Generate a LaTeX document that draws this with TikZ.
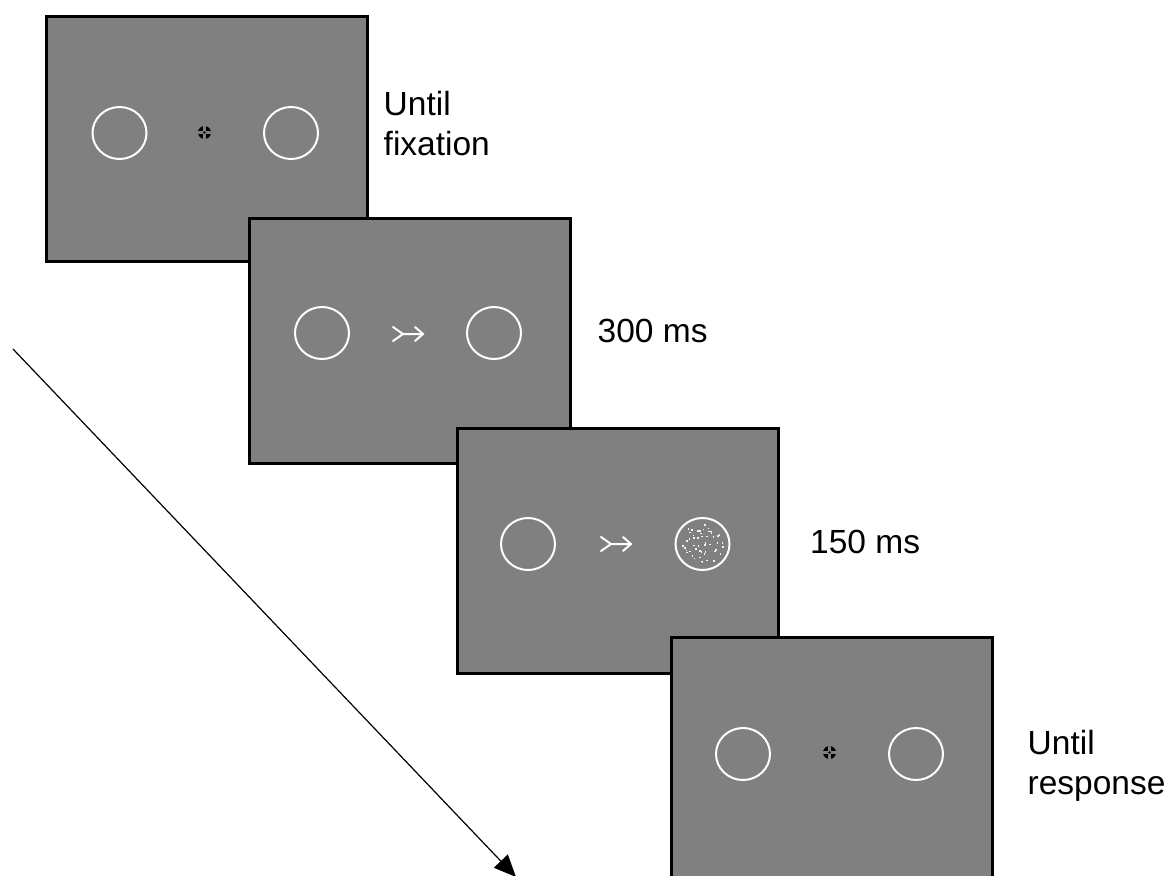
\documentclass[tikz,border=0pt]{standalone}
\usepackage{fontspec}
\setmainfont{Liberation Sans}
\usetikzlibrary{shapes.geometric,arrows.meta}
\definecolor{screen}{gray}{0.5}
\tikzset{
  screenbox/.style={rectangle, draw=black, line width=3pt, fill=screen,
    minimum width=321pt, minimum height=245pt, inner sep=0pt, anchor=north west},
  placeholder/.style={ellipse, draw=white, line width=2pt,
    minimum width=54pt, minimum height=52pt, inner sep=0pt},
  fixation/.style={circle, fill=black, minimum size=13pt, inner sep=0pt,
    path picture={
      \draw[screen, line width=2.6pt]
        (path picture bounding box.west) -- (path picture bounding box.east)
        (path picture bounding box.north) -- (path picture bounding box.south);
      \fill[black] (path picture bounding box.center) circle (1.3pt);
    }},
  cue/.style={draw=white, line width=2pt, line cap=round},
  timing/.style={font=\fontsize{33.5}{40}\selectfont, align=left, inner sep=0pt, anchor=base west},
  dot/.style={fill=white!90!screen},
}
\begin{document}
\begin{tikzpicture}[x=1pt, y=-1pt]
  \useasboundingbox (0,0) rectangle (1171,876);
  \clip (0,0) rectangle (1171,876);

  % time axis
  \coordinate (tstart) at (13,349);
  \coordinate (tend) at (516,877);
  \draw[line width=1.2pt, -{Triangle[length=22pt,width=19pt]}] (tstart) -- (tend);

  % screen 1: fixation display
  \node[screenbox] (s1) at (45,15) {};
  \begin{scope}[shift={(45,15)}]
    \node[placeholder] (s1l) at (74.5,118) {};
    \node[placeholder] (s1r) at (246,118) {};
    \node[fixation] (s1f) at (159.5,117.5) {};
  \end{scope}
  \node[timing] (t1) at (383.5,155) {Until\\fixation};

  % screen 2: cue
  \node[screenbox] (s2) at (248,217) {};
  \begin{scope}[shift={(248,217)}]
    \node[placeholder] (s2l) at (74,116) {};
    \node[placeholder] (s2r) at (246,116) {};
    \draw[cue] (145,110) -- (155,117) -- (145,124)
               (155,117) -- (175,117)
               (167,110) -- (175,117) -- (167,124);
  \end{scope}
  \node[timing] (t2) at (597.5,342) {300 ms};

  % screen 3: cue and target (dot cloud on a jittered grid)
  \node[screenbox] (s3) at (456,427) {};
  \begin{scope}[shift={(456,427)}]
    \node[placeholder] (s3l) at (72,117) {};
    \node[placeholder] (s3r) at (246.5,117) {};
    \pgfmathsetseed{5}
    \foreach \gx in {-20,-15,...,20} {
      \foreach \gy in {-20,-15,...,20} {
        \pgfmathsetmacro\px{\gx+3*rand}
        \pgfmathsetmacro\py{\gy+3*rand}
        \pgfmathsetmacro\inside{(\px*\px+\py*\py<440) ? 1 : 0}
        \ifnum\inside=1
          \fill[dot] (246.5+\px-0.8,117+\py-0.8) rectangle ++(1.6,1.6);
        \fi
      }
    }
    \draw[cue] (145,110) -- (155,117) -- (145,124)
               (155,117) -- (175,117)
               (167,110) -- (175,117) -- (167,124);
  \end{scope}
  \node[timing] (t3) at (810,553) {150 ms};

  % screen 4: response display
  \node[screenbox] (s4) at (670,636) {};
  \begin{scope}[shift={(670,636)}]
    \node[placeholder] (s4l) at (73,118) {};
    \node[placeholder] (s4r) at (246,118) {};
    \node[fixation] (s4f) at (159.5,116.5) {};
  \end{scope}
  \node[timing] (t4) at (1027.5,794) {Until\\response};
\end{tikzpicture}
\end{document}
